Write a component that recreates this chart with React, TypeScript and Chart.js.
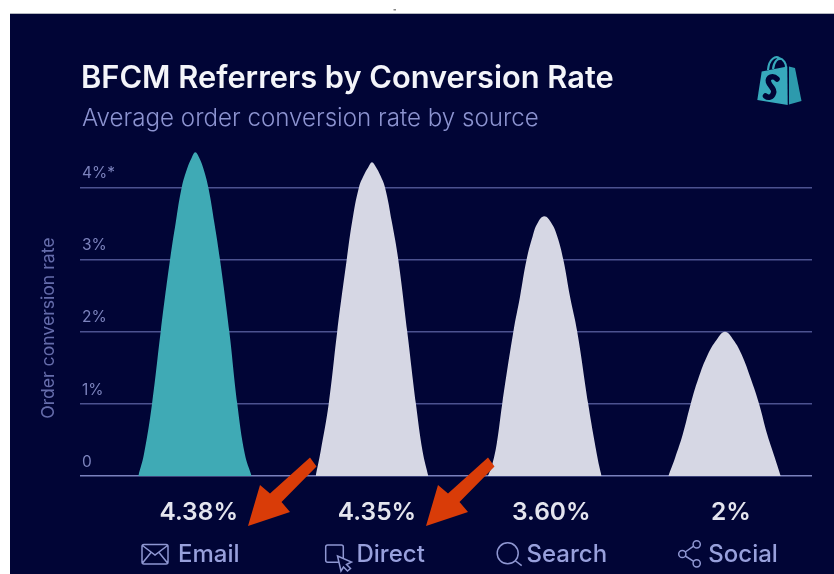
import { useEffect, useRef } from "react";
import { Chart, registerables } from "chart.js";

Chart.register(...registerables);

const titleText = "BFCM Referrers by Conversion Rate";
const subtitleText = "Average order conversion rate by source";
const yAxisTitle = "Order conversion rate";

const categories = ["Email", "Direct", "Search", "Social"];
const valueLabels = ["4.38%", "4.35%", "3.60%", "2%"];
const yTickValues = [0, 1, 2, 3, 4];
const yTickLabels = ["0", "1%", "2%", "3%", "4%*"];

const emailPos = [0.676, 0.708, 0.754, 0.803, 0.856, 0.888, 0.922, 0.954, 0.978, 0.999, 1.022, 1.044, 1.073, 1.107, 1.139, 1.192, 1.237, 1.28, 1.318];
const emailRate = [0, 0.3, 1, 2, 3, 3.51, 4, 4.27, 4.41, 4.49, 4.41, 4.27, 4, 3.51, 3, 2, 1, 0.3, 0];

const directPos = [1.681, 1.709, 1.755, 1.803, 1.857, 1.888, 1.926, 1.956, 1.979, 2.0, 2.023, 2.045, 2.074, 2.112, 2.149, 2.2, 2.249, 2.287, 2.319];
const directRate = [0, 0.34, 1, 2, 3, 3.53, 4, 4.18, 4.28, 4.35, 4.28, 4.18, 4, 3.53, 3, 2, 1, 0.34, 0];

const searchPos = [2.657, 2.678, 2.707, 2.738, 2.801, 2.839, 2.876, 2.91, 2.937, 2.976, 3.018, 3.05, 3.084, 3.122, 3.163, 3.225, 3.263, 3.288, 3.301];
const searchRate = [0, 0.13, 0.45, 1, 2, 2.49, 3, 3.32, 3.5, 3.6, 3.5, 3.32, 3, 2.49, 2, 1, 0.45, 0.13, 0];

const socialPos = [3.679, 3.717, 3.76, 3.806, 3.849, 3.902, 3.953, 4.0, 4.047, 4.095, 4.146, 4.193, 4.24, 4.283, 4.316];
const socialRate = [0, 0.25, 0.57, 1, 1.35, 1.68, 1.89, 2, 1.89, 1.68, 1.35, 1, 0.57, 0.25, 0];

const NAVY = "#010536";
const TEAL = "#3faab5";
const LOGO = "#37a9bc";
const PALE = "#d6d7e4";
const PERI = "#98a0dc";
const ARROW = "#d93c08";
const FONT = "Inter, sans-serif";

const pairs = (xs: number[], ys: number[]) => xs.map((x, i) => ({ x, y: ys[i] }));

const hill = (label: string, xs: number[], ys: number[], color: string) => ({
  label,
  data: pairs(xs, ys),
  backgroundColor: color,
  borderWidth: 0,
  pointRadius: 0,
  fill: "origin",
  tension: 0.42,
});

function drawArrow(ctx: CanvasRenderingContext2D, dx: number) {
  const pts = [[248, 526], [260, 485], [270, 493.5], [310, 457.5], [316.5, 466.5], [281.5, 502], [290, 512]];
  ctx.beginPath();
  pts.forEach(([x, y], i) => (i ? ctx.lineTo(x + dx, y) : ctx.moveTo(x + dx, y)));
  ctx.closePath();
  ctx.fillStyle = ARROW;
  ctx.fill();
}

function drawLogo(ctx: CanvasRenderingContext2D) {
  ctx.strokeStyle = LOGO;
  ctx.lineWidth = 2.2;
  ctx.beginPath();
  ctx.moveTo(768, 70);
  ctx.bezierCurveTo(769, 58, 776, 56, 779, 58);
  ctx.bezierCurveTo(784, 59, 786, 64, 786, 67);
  ctx.moveTo(773, 69);
  ctx.bezierCurveTo(774, 61, 778, 58, 781, 59);
  ctx.stroke();
  ctx.fillStyle = LOGO;
  ctx.beginPath();
  ctx.moveTo(761.7, 71.5);
  ctx.lineTo(787.3, 66.5);
  ctx.lineTo(787.7, 105);
  ctx.lineTo(757.3, 100);
  ctx.closePath();
  ctx.fill();
  ctx.fillStyle = "#2d9aad";
  ctx.beginPath();
  ctx.moveTo(789, 66.5);
  ctx.lineTo(795, 68);
  ctx.lineTo(801.5, 101);
  ctx.lineTo(789, 104.5);
  ctx.closePath();
  ctx.fill();
  ctx.strokeStyle = NAVY;
  ctx.lineWidth = 5.5;
  ctx.lineCap = "round";
  ctx.beginPath();
  ctx.moveTo(777, 79);
  ctx.bezierCurveTo(773, 75, 767, 77, 768.5, 82);
  ctx.bezierCurveTo(770, 87, 775, 88, 773.5, 93);
  ctx.bezierCurveTo(772, 98, 768, 98, 765.5, 96);
  ctx.stroke();
  ctx.lineCap = "butt";
}

function drawIcons(ctx: CanvasRenderingContext2D) {
  ctx.strokeStyle = "#8f97d2";
  ctx.lineWidth = 1.5;
  // envelope
  ctx.beginPath();
  ctx.roundRect(142, 544.5, 26, 19.5, 2);
  ctx.moveTo(142.5, 545.5);
  ctx.lineTo(155, 555);
  ctx.lineTo(167.5, 545.5);
  ctx.moveTo(142.5, 563);
  ctx.lineTo(151, 552.5);
  ctx.moveTo(167.5, 563);
  ctx.lineTo(159, 552.5);
  ctx.stroke();
  // window and cursor
  ctx.beginPath();
  ctx.roundRect(325.7, 545, 17.6, 17.3, 2);
  ctx.stroke();
  ctx.beginPath();
  ctx.moveTo(337.5, 556);
  ctx.lineTo(351.5, 562);
  ctx.lineTo(346.5, 564.5);
  ctx.lineTo(350.5, 568.5);
  ctx.lineTo(347.5, 571);
  ctx.lineTo(343.5, 567);
  ctx.lineTo(341, 571);
  ctx.closePath();
  ctx.fillStyle = NAVY;
  ctx.fill();
  ctx.stroke();
  // magnifier
  ctx.beginPath();
  ctx.arc(507.7, 553.3, 10.5, 0, Math.PI * 2);
  ctx.moveTo(515, 560.5);
  ctx.lineTo(521.7, 565.7);
  ctx.stroke();
  // share
  ctx.beginPath();
  ctx.arc(696.7, 544.3, 3.6, 0, Math.PI * 2);
  ctx.stroke();
  ctx.beginPath();
  ctx.arc(696.7, 563.3, 3.6, 0, Math.PI * 2);
  ctx.stroke();
  ctx.beginPath();
  ctx.arc(682.3, 554, 3.6, 0, Math.PI * 2);
  ctx.stroke();
  ctx.beginPath();
  ctx.moveTo(685.3, 552);
  ctx.lineTo(693.6, 546.2);
  ctx.moveTo(685.3, 556);
  ctx.lineTo(693.6, 561.4);
  ctx.stroke();
}

const backdrop = {
  id: "backdrop",
  beforeDraw(chart: Chart) {
    const { ctx, width, height } = chart;
    ctx.save();
    ctx.fillStyle = "#ffffff";
    ctx.fillRect(0, 0, width, height);
    ctx.fillStyle = "#b4b8c0";
    ctx.fillRect(10, 13, width - 10, 1);
    ctx.fillStyle = "#8a8a8a";
    ctx.fillRect(393.5, 9, 2.5, 1.5);
    ctx.fillStyle = NAVY;
    ctx.fillRect(10, 14, width - 10, height - 14);
    ctx.restore();
  },
};

const valueCentres = [198.7, 377, 551.3, 731];
const nameStarts = [178, 356.5, 526.5, 708.3];

const annotations = {
  id: "annotations",
  afterDraw(chart: Chart) {
    const { ctx } = chart;
    ctx.save();
    ctx.textBaseline = "alphabetic";
    ctx.textAlign = "left";
    ctx.font = `600 30.8px ${FONT}`;
    ctx.fillStyle = "#f4f5fa";
    ctx.fillText(titleText, 81, 88.3);
    ctx.font = `300 24.15px ${FONT}`;
    ctx.fillStyle = "#8c93d0";
    ctx.fillText(subtitleText, 82, 126);

    ctx.textAlign = "center";
    ctx.font = `600 24.5px ${FONT}`;
    ctx.fillStyle = "#e4e5ee";
    valueLabels.forEach((t, i) => ctx.fillText(t, valueCentres[i], 520));

    ctx.textAlign = "left";
    ctx.font = `500 24px ${FONT}`;
    ctx.fillStyle = PERI;
    categories.forEach((t, i) => ctx.fillText(t, nameStarts[i], 562));

    drawIcons(ctx);
    drawLogo(ctx);
    drawArrow(ctx, 0);
    drawArrow(ctx, 178);
    ctx.restore();
  },
};

export default function App() {
  const ref = useRef<HTMLCanvasElement>(null);

  useEffect(() => {
    const chart = new Chart(ref.current!, {
      type: "line",
      data: {
        datasets: [
          hill(categories[0], emailPos, emailRate, TEAL),
          hill(categories[1], directPos, directRate, PALE),
          hill(categories[2], searchPos, searchRate, PALE),
          hill(categories[3], socialPos, socialRate, PALE),
        ],
      },
      options: {
        animation: false,
        responsive: false,
        devicePixelRatio: 1,
        layout: { padding: { left: 38.4, right: 22, top: 144.2, bottom: 61.96 } },
        plugins: { legend: { display: false }, tooltip: { enabled: false } },
        scales: {
          x: { type: "linear", display: false, min: 0.346, max: 4.493 },
          y: {
            type: "linear",
            min: -0.5,
            max: 4.6,
            afterBuildTicks: (axis: any) => {
              axis.ticks = yTickValues.map((value) => ({ value }));
            },
            title: {
              display: true,
              text: yAxisTitle,
              color: "#656cab",
              font: { family: FONT, size: 17.6, weight: "400" },
              padding: { top: 0, bottom: 16.5 },
            },
            border: { display: false },
            grid: {
              drawTicks: false,
              lineWidth: 1.5,
              color: (c: any) => (c.tick && c.tick.value === 0 ? "#7a81bd" : "#4c5290"),
            },
            ticks: {
              mirror: true,
              padding: 2,
              labelOffset: -14,
              autoSkip: false,
              color: "#7c83bd",
              font: { family: FONT, size: 15.5 },
              callback: (v: any) => yTickLabels[yTickValues.indexOf(Number(v))],
            },
          },
        },
      },
      plugins: [backdrop, annotations],
    } as any);
    return () => chart.destroy();
  }, []);

  return (
    <div style={{ position: "fixed", left: 0, top: 0, width: 834, height: 574 }}>
      <canvas ref={ref} width={834} height={574} style={{ display: "block" }} />
    </div>
  );
}
